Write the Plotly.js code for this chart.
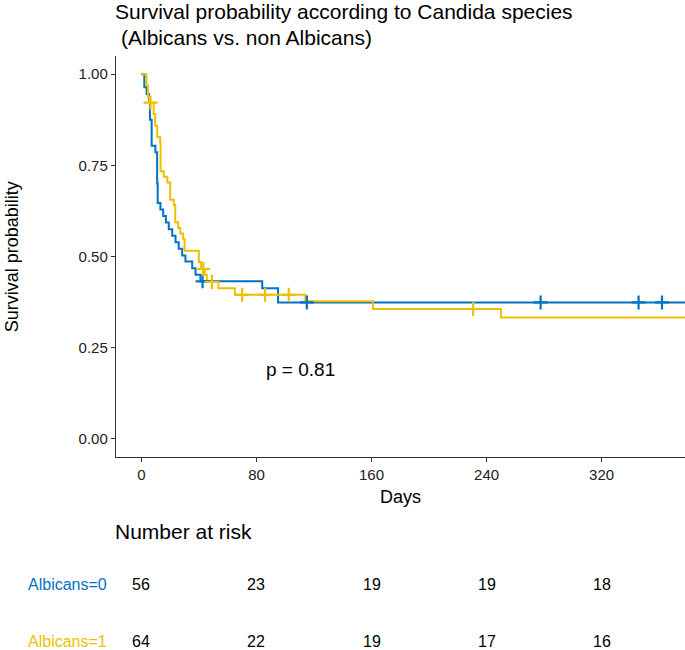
<!DOCTYPE html>
<html>
<head>
<meta charset="utf-8">
<script src="https://cdn.plot.ly/plotly-3.0.1.min.js"></script>
<style>html,body{margin:0;padding:0;background:#fff;}</style>
</head>
<body>
<div id="chart" style="width:685px;height:650px;"></div>
<script>
// ---- data ----
const groupNames = ["Albicans=0", "Albicans=1"];
const groupColors = ["#0073C2", "#EFC000"];

const alb0Times = [0, 2, 3.6, 5.2, 5.9, 7.1, 9.7, 10.9, 11.3, 13.2, 15.1, 17, 19, 21.4, 23.7, 25.9, 28.3, 30.6, 35.3, 37.6, 41, 84, 95, 380];
const alb0Surv  = [1, 0.964, 0.946, 0.929, 0.875, 0.804, 0.786, 0.70, 0.647, 0.629, 0.611, 0.593, 0.575, 0.557, 0.539, 0.521, 0.503, 0.486, 0.468, 0.450, 0.432, 0.413, 0.374, 0.374];
const alb0Censor = [42.5, 115, 277.6, 345.7, 362];

const alb1Times = [0, 3.5, 4.5, 5.5, 8.5, 9.5, 11, 13, 13.3, 15.5, 18, 20, 22.5, 23.5, 25.5, 27, 29, 30, 39.9, 41.5, 44, 45.5, 53.5, 65, 114, 161, 250, 380];
const alb1Surv  = [1, 0.969, 0.938, 0.922, 0.891, 0.859, 0.828, 0.813, 0.734, 0.719, 0.703, 0.656, 0.641, 0.594, 0.578, 0.563, 0.547, 0.516, 0.484, 0.466, 0.450, 0.430, 0.413, 0.395, 0.377, 0.356, 0.333, 0.333];
const alb1Censor = [6.3, 43, 49, 70, 86, 102.4, 230.7];

const riskTimes = [0, 80, 160, 240, 320];
const riskAlb0 = [56, 23, 19, 19, 18];
const riskAlb1 = [64, 22, 19, 17, 16];

const pValueText = "p = 0.81";
const titleLine1 = "Survival probability according to Candida species";
const titleLine2 = "(Albicans vs. non Albicans)";

// ---- helpers ----
function survAt(times, surv, t) {
  let s = surv[0];
  for (let i = 0; i < times.length; i++) { if (times[i] <= t) s = surv[i]; }
  return s;
}

const FONT = "Arial, 'Liberation Sans', sans-serif";
const groups = [
  {times: alb0Times, surv: alb0Surv, cens: alb0Censor, risk: riskAlb0},
  {times: alb1Times, surv: alb1Surv, cens: alb1Censor, risk: riskAlb1}
];

const traces = [];
groups.forEach((g, i) => {
  traces.push({
    x: g.times, y: g.surv, type: "scatter", mode: "lines",
    line: {shape: "hv", color: groupColors[i], width: 2},
    hoverinfo: "skip", showlegend: false
  });
});
groups.forEach((g, i) => {
  traces.push({
    x: g.cens, y: g.cens.map(t => survAt(g.times, g.surv, t)),
    type: "scatter", mode: "markers",
    marker: {symbol: "cross-thin", size: 10, line: {color: groupColors[i], width: 2.2}, color: groupColors[i]},
    hoverinfo: "skip", showlegend: false
  });
});

const annotations = [
  {text: titleLine1, xref: "paper", yref: "paper", x: -0.005, y: 1.11, xanchor: "left", yanchor: "middle", showarrow: false, font: {family: FONT, size: 21, color: "#000"}},
  {text: titleLine2, xref: "paper", yref: "paper", x: 0.006, y: 1.045, xanchor: "left", yanchor: "middle", showarrow: false, font: {family: FONT, size: 21, color: "#000"}},
  {text: "Days", xref: "paper", yref: "paper", x: 0.5, y: -0.1, xanchor: "center", yanchor: "middle", showarrow: false, font: {family: FONT, size: 18, color: "#000"}},
  {text: "Survival probability", xref: "paper", yref: "paper", x: -0.183, y: 0.5, textangle: -90, xanchor: "center", yanchor: "middle", showarrow: false, font: {family: FONT, size: 18, color: "#000"}},
  {text: pValueText, xref: "x", yref: "y", x: 85.5, y: 0.189, xanchor: "left", yanchor: "middle", showarrow: false, font: {family: FONT, size: 19, color: "#000"}},
  {text: "Number at risk", xref: "paper", yref: "paper", x: -0.005, y: -0.187, xanchor: "left", yanchor: "middle", showarrow: false, font: {family: FONT, size: 21, color: "#000"}}
];
const rowY = [-0.319, -0.459];
groups.forEach((g, i) => {
  annotations.push({text: groupNames[i], xref: "paper", yref: "paper", x: -0.012, y: rowY[i], xanchor: "right", yanchor: "middle", showarrow: false, font: {family: FONT, size: 16, color: groupColors[i]}});
  riskTimes.forEach((t, j) => {
    annotations.push({text: String(g.risk[j]), xref: "x", yref: "paper", x: t, y: rowY[i], xanchor: "center", yanchor: "middle", showarrow: false, font: {family: FONT, size: 16, color: "#000"}});
  });
});

const layout = {
  width: 685, height: 650,
  margin: {l: 116, r: 0, t: 56, b: 193, pad: 0},
  paper_bgcolor: "#fff", plot_bgcolor: "#fff",
  showlegend: false,
  font: {family: FONT, color: "#000"},
  xaxis: {
    range: [-17.7, 378], tickvals: riskTimes, ticktext: riskTimes.map(String),
    showgrid: false, zeroline: false, showline: true, linecolor: "#333", linewidth: 1.2,
    ticks: "outside", ticklen: 4, tickcolor: "#333", tickwidth: 1,
    tickfont: {family: FONT, size: 15, color: "#222"}, mirror: false
  },
  yaxis: {
    range: [-0.05, 1.05], tickvals: [0, 0.25, 0.5, 0.75, 1], ticktext: ["0.00", "0.25", "0.50", "0.75", "1.00"],
    showgrid: false, zeroline: false, showline: true, linecolor: "#333", linewidth: 1.2,
    ticks: "outside", ticklen: 4, tickcolor: "#333", tickwidth: 1,
    tickfont: {family: FONT, size: 15, color: "#222"}
  },
  annotations: annotations
};

Plotly.newPlot("chart", traces, layout, {staticPlot: true, displayModeBar: false});
</script>
</body>
</html>
